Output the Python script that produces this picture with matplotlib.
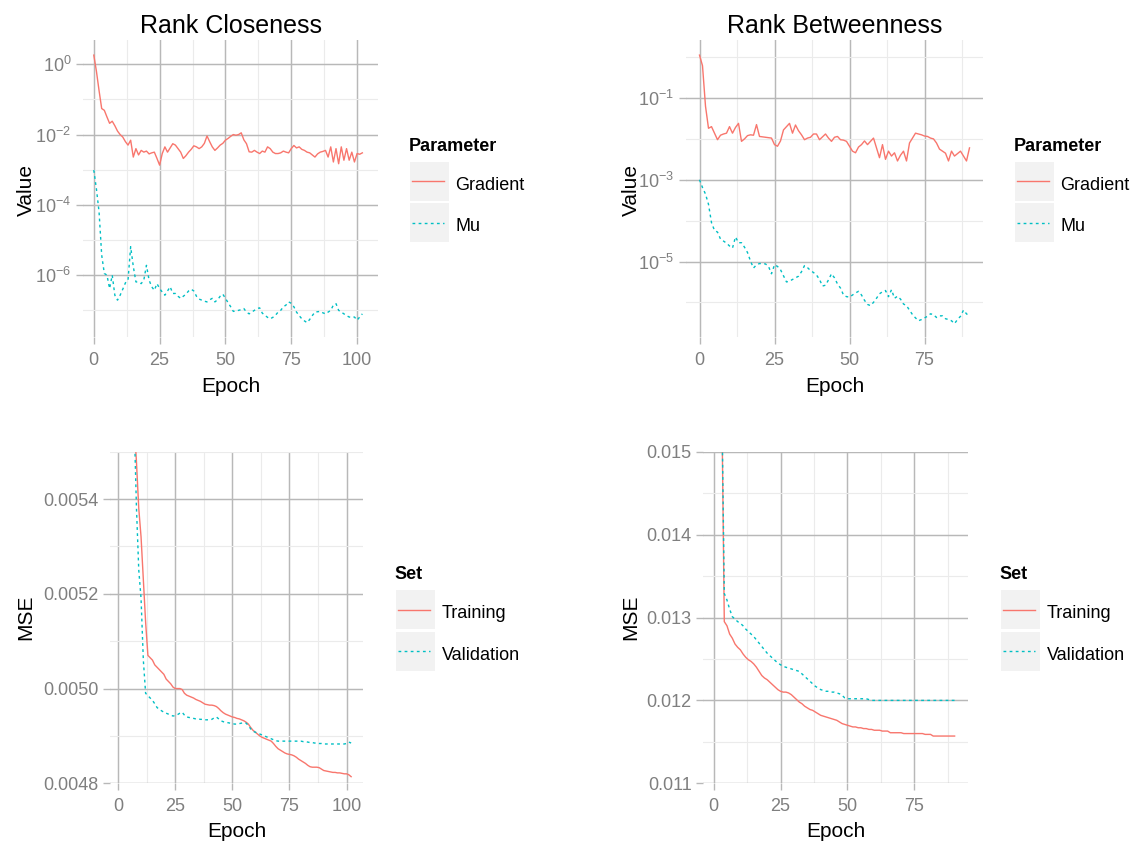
import numpy as np
import matplotlib
matplotlib.use("Agg")
import matplotlib.pyplot as plt
from matplotlib.patches import Rectangle
from matplotlib.lines import Line2D
from matplotlib.ticker import FixedLocator, NullFormatter

plt.rcParams['font.family'] = ['Liberation Sans', 'DejaVu Sans']
plt.rcParams['mathtext.fontset'] = 'custom'
plt.rcParams['mathtext.rm'] = 'Liberation Sans'
plt.rcParams['mathtext.it'] = 'Liberation Sans:italic'
plt.rcParams['mathtext.bf'] = 'Liberation Sans:bold'

# ---------------- data ----------------
titles = ["Rank Closeness", "Rank Betweenness"]
param_labels = ["Gradient", "Mu"]
set_labels = ["Training", "Validation"]

closeness_epochs = np.arange(0, 103)
closeness_gradient_log10 = [
    0.26, -0.2, -0.75, -1.26, -1.31, -1.5, -1.68, -1.62, -1.75, -1.9,
    -2.0, -2.07, -2.2, -2.3, -2.16, -2.64, -2.4, -2.58, -2.45, -2.5,
    -2.47, -2.55, -2.52, -2.5, -2.68, -2.87, -2.54, -2.35, -2.5, -2.38,
    -2.26, -2.3, -2.4, -2.5, -2.68, -2.6, -2.5, -2.42, -2.32, -2.35,
    -2.4, -2.35, -2.25, -2.04, -2.2, -2.35, -2.45, -2.38, -2.3, -2.25,
    -2.16, -2.11, -2.05, -2.0, -2.02, -2.0, -1.95, -2.15, -2.26, -2.49,
    -2.5, -2.45, -2.5, -2.54, -2.47, -2.5, -2.35, -2.4, -2.5, -2.54,
    -2.54, -2.52, -2.47, -2.5, -2.52, -2.4, -2.31, -2.38, -2.35, -2.42,
    -2.45, -2.5, -2.52, -2.58, -2.64, -2.55, -2.5, -2.48, -2.45, -2.64,
    -2.35, -2.78, -2.4, -2.83, -2.35, -2.73, -2.4, -2.73, -2.5, -2.78,
    -2.54, -2.56, -2.52]
closeness_mu_log10 = [
    -3.01, -3.55, -4.2, -5.43, -5.95, -6.0, -6.38, -6.0, -6.57, -6.71,
    -6.57, -6.4, -6.22, -6.14, -5.19, -5.75, -6.19, -6.2, -6.24, -6.14,
    -5.72, -6.14, -6.33, -6.43, -6.24, -6.38, -6.48, -6.57, -6.45, -6.33,
    -6.52, -6.52, -6.6, -6.66, -6.6, -6.54, -6.45, -6.4, -6.45, -6.6,
    -6.68, -6.71, -6.74, -6.76, -6.7, -6.66, -6.76, -6.7, -6.6, -6.54,
    -6.66, -6.78, -6.9, -7.03, -7.02, -7.0, -6.98, -6.95, -7.05, -7.1,
    -7.05, -7.0, -6.95, -6.93, -7.08, -7.14, -7.2, -7.24, -7.2, -7.14,
    -7.05, -7.0, -6.9, -6.85, -6.76, -6.8, -6.9, -7.05, -7.15, -7.24,
    -7.3, -7.35, -7.26, -7.15, -7.05, -7.04, -7.03, -7.07, -7.1, -7.05,
    -7.0, -6.85, -6.81, -7.0, -7.05, -7.1, -7.15, -7.19, -7.2, -7.19,
    -7.28, -7.19, -7.1]

betweenness_epochs = np.arange(0, 91)
betweenness_gradient_log10 = [
    0.05, -0.21, -1.2, -1.74, -1.7, -1.86, -2.02, -1.91, -1.88, -1.86,
    -1.7, -1.86, -1.72, -1.62, -2.06, -2.0, -1.92, -1.9, -1.91, -1.65,
    -1.94, -1.95, -1.96, -1.97, -1.98, -2.14, -2.18, -2.05, -1.78, -1.7,
    -1.62, -1.86, -1.66, -1.8, -1.9, -2.02, -1.98, -1.96, -1.88, -1.88,
    -2.02, -1.95, -1.88, -1.98, -2.06, -1.96, -1.94, -2.02, -2.03, -2.06,
    -2.18, -2.3, -2.34, -2.2, -2.14, -2.05, -2.14, -2.06, -1.98, -2.22,
    -2.46, -2.14, -2.5, -2.3, -2.42, -2.34, -2.54, -2.4, -2.3, -2.54,
    -2.1, -1.98, -1.86, -1.88, -1.9, -1.93, -1.94, -1.98, -2.0, -2.1,
    -2.25, -2.3, -2.35, -2.54, -2.3, -2.42, -2.36, -2.3, -2.42, -2.54,
    -2.22]
betweenness_mu_log10 = [
    -3.0, -3.19, -3.35, -3.6, -4.05, -4.24, -4.28, -4.45, -4.5, -4.55,
    -4.62, -4.67, -4.4, -4.54, -4.54, -4.65, -4.78, -4.99, -5.16, -5.08,
    -5.05, -5.05, -5.06, -5.12, -5.3, -5.08, -5.12, -5.2, -5.35, -5.5,
    -5.48, -5.44, -5.4, -5.36, -5.25, -5.1, -5.15, -5.22, -5.27, -5.33,
    -5.44, -5.6, -5.58, -5.45, -5.3, -5.4, -5.55, -5.65, -5.82, -5.86,
    -5.87, -5.82, -5.77, -5.73, -5.82, -5.95, -6.05, -6.08, -6.0, -5.9,
    -5.79, -5.74, -5.71, -5.86, -5.69, -5.9, -5.85, -5.92, -6.04, -6.08,
    -6.19, -6.3, -6.38, -6.45, -6.42, -6.38, -6.34, -6.28, -6.3, -6.37,
    -6.33, -6.33, -6.4, -6.42, -6.45, -6.52, -6.42, -6.34, -6.19, -6.28,
    -6.34]

closeness_mse_epochs = np.arange(7, 103)
closeness_training = [
    0.00556, 0.005477, 0.00538, 0.00532, 0.00523, 0.00514, 0.00507, 0.005065, 0.00506, 0.00505,
    0.005045, 0.00504, 0.005035, 0.00503, 0.00502, 0.005015, 0.00501, 0.005003, 0.005, 0.005,
    0.005, 0.004998, 0.00499, 0.004986, 0.004984, 0.004982, 0.00498, 0.004977, 0.004975, 0.004973,
    0.00497, 0.004967, 0.004966, 0.004965, 0.004965, 0.004964, 0.004962, 0.004958, 0.004953, 0.004949,
    0.004946, 0.004944, 0.004942, 0.00494, 0.004939, 0.004937, 0.004936, 0.004934, 0.004932, 0.004929,
    0.004925, 0.004918, 0.004912, 0.004908, 0.004904, 0.0049, 0.004897, 0.004895, 0.004893, 0.004891,
    0.004889, 0.004884, 0.004878, 0.004873, 0.00487, 0.004867, 0.004864, 0.004862, 0.004861, 0.00486,
    0.004858, 0.004855, 0.004851, 0.004848, 0.004845, 0.004842, 0.004838, 0.004835, 0.004834, 0.004834,
    0.004834, 0.004833, 0.00483, 0.004827, 0.004826, 0.004825, 0.004824, 0.004823, 0.004823, 0.004822,
    0.004822, 0.004821, 0.00482, 0.00482, 0.004818, 0.004814]
closeness_validation = [
    0.00556, 0.00538, 0.00525, 0.00519, 0.00506, 0.00499, 0.004985, 0.00498, 0.004975, 0.004968,
    0.00496, 0.004956, 0.004953, 0.00495, 0.004948, 0.004946, 0.004944, 0.004942, 0.004943, 0.004945,
    0.004948, 0.00495, 0.004944, 0.00494, 0.004939, 0.004938, 0.004937, 0.004936, 0.004936, 0.004935,
    0.004935, 0.004934, 0.004934, 0.004934, 0.004935, 0.004938, 0.00494, 0.004936, 0.004932, 0.00493,
    0.004929, 0.004928, 0.004927, 0.004926, 0.004925, 0.004925, 0.004926, 0.004927, 0.004928, 0.004927,
    0.004922, 0.004915, 0.00491, 0.004908, 0.004906, 0.004904, 0.004902, 0.0049, 0.004898, 0.004896,
    0.004894, 0.004892, 0.00489, 0.004889, 0.004889, 0.004889, 0.004889, 0.004889, 0.004889, 0.004889,
    0.004889, 0.004889, 0.004889, 0.004889, 0.004888, 0.004888, 0.004887, 0.004886, 0.004886, 0.004885,
    0.004885, 0.004884, 0.004884, 0.004883, 0.004883, 0.004883, 0.004883, 0.004883, 0.004883, 0.004883,
    0.004883, 0.004883, 0.004883, 0.004884, 0.004887, 0.004885]

betweenness_mse_epochs = np.arange(3, 91)
betweenness_training = [
    0.0158, 0.01295, 0.0129, 0.0128, 0.01275, 0.01268, 0.01264, 0.01261, 0.01256, 0.01252,
    0.01249, 0.01247, 0.01244, 0.0124, 0.01235, 0.0123, 0.01227, 0.01225, 0.01222, 0.01219,
    0.01216, 0.01213, 0.01211, 0.0121, 0.0121, 0.01209, 0.01207, 0.01204, 0.01201, 0.01198,
    0.01196, 0.01193, 0.01191, 0.01189, 0.01188, 0.01186, 0.01184, 0.01182, 0.01181, 0.0118,
    0.01179, 0.01178, 0.01177, 0.01176, 0.01174, 0.01172, 0.01171, 0.0117, 0.01169, 0.01168,
    0.01168, 0.01167, 0.01167, 0.01166, 0.01166, 0.01165, 0.01165, 0.01164, 0.01164, 0.01164,
    0.01163, 0.01163, 0.01163, 0.01161, 0.01161, 0.01161, 0.01161, 0.01161, 0.0116, 0.0116,
    0.0116, 0.0116, 0.0116, 0.0116, 0.0116, 0.0116, 0.01159, 0.01159, 0.01159, 0.01157,
    0.01157, 0.01157, 0.01157, 0.01157, 0.01157, 0.01157, 0.01157, 0.01157]
betweenness_validation = [
    0.0158, 0.01329, 0.01321, 0.0131, 0.01301, 0.01298, 0.01295, 0.01293, 0.0129, 0.01286,
    0.01283, 0.0128, 0.01277, 0.01273, 0.01269, 0.01265, 0.01261, 0.01257, 0.01254, 0.01251,
    0.01248, 0.01245, 0.01243, 0.01241, 0.0124, 0.01239, 0.01238, 0.01237, 0.01236, 0.01235,
    0.01232, 0.01229, 0.01226, 0.01223, 0.0122, 0.01217, 0.01215, 0.01213, 0.01212, 0.01211,
    0.01211, 0.0121, 0.0121, 0.01209, 0.01208, 0.01206, 0.01203, 0.01202, 0.01202, 0.01202,
    0.01202, 0.01202, 0.01202, 0.01202, 0.01202, 0.01201, 0.012, 0.012, 0.012, 0.012,
    0.012, 0.012, 0.012, 0.012, 0.012, 0.012, 0.012, 0.012, 0.012, 0.012,
    0.012, 0.012, 0.012, 0.012, 0.012, 0.012, 0.012, 0.012, 0.012, 0.012,
    0.012, 0.012, 0.012, 0.012, 0.012, 0.012, 0.012, 0.012]

# ---------------- styling ----------------
W, H = 1140, 841
RED = '#F8766D'
CYAN = '#00BFC4'
DOT = (0, (2.0, 2.4))
MAJOR_GRID = '#b8b8b8'
MINOR_GRID = '#ebebeb'
TICK_TEXT = '#7f7f7f'

fig = plt.figure(figsize=(W / 100, H / 100), dpi=100)
fig.patch.set_facecolor('white')


def add_axes_px(l, t, r, b):
    return fig.add_axes([l / W, 1 - b / H, (r - l) / W, (b - t) / H])


def style(ax):
    ax.set_facecolor('white')
    for s in ax.spines.values():
        s.set_visible(False)
    ax.set_axisbelow(True)
    ax.grid(True, which='major', color=MAJOR_GRID, lw=1.05)
    ax.grid(True, which='minor', color=MINOR_GRID, lw=0.8)
    ax.tick_params(which='major', direction='out', length=4.8, width=1.0,
                   color=MAJOR_GRID, labelcolor=TICK_TEXT, labelsize=13)
    ax.tick_params(which='minor', length=0)
    ax.tick_params(axis='x', pad=6.0)
    ax.tick_params(axis='y', pad=3.6)


def no_minor_labels(ax):
    ax.yaxis.set_minor_formatter(NullFormatter())
    ax.xaxis.set_minor_formatter(NullFormatter())


def fig_text(x, y, s, **kw):
    return fig.text(x / W, 1 - y / H, s, **kw)


def draw_legend(x0, title_base, title, labels, colors, styles):
    fig_text(x0 - 1.5, title_base, title, fontsize=13, fontweight='bold',
             ha='left', va='baseline', color='black')
    top = title_base + 11.0
    size = 39.0
    gap = 2.5
    for i, (lab, col, ls) in enumerate(zip(labels, colors, styles)):
        bt = top + i * (size + gap)
        fig.add_artist(Rectangle((x0 / W, 1 - (bt + size) / H), size / W, size / H,
                                 transform=fig.transFigure, facecolor='#f2f2f2',
                                 edgecolor='none'))
        cy = bt + size / 2
        fig.add_artist(Line2D([(x0 + 2) / W, (x0 + 34) / W], [1 - cy / H, 1 - cy / H],
                              transform=fig.transFigure, color=col, lw=1.0, ls=ls))
        fig_text(x0 + 45.5, cy + 8.6, lab, fontsize=13, ha='left', va='baseline',
                 color='black')


def log_labels(exps):
    return [r'$10^{%d}$' % e for e in exps]


# ---------------- top-left: Rank Closeness (log) ----------------
ax1 = add_axes_px(83, 40, 378.4, 336.7)
style(ax1)
ax1.set_yscale('log')
ax1.plot(closeness_epochs, 10.0 ** np.array(closeness_gradient_log10), color=RED, lw=1.0)
ax1.plot(closeness_epochs, 10.0 ** np.array(closeness_mu_log10), color=CYAN, lw=1.0, ls=DOT)
ax1.set_xlim(-4.1, 108.1)
ax1.set_ylim(10 ** -7.75, 10 ** 0.69)
ax1.xaxis.set_major_locator(FixedLocator([0, 25, 50, 75, 100]))
ax1.xaxis.set_minor_locator(FixedLocator([12.5, 37.5, 62.5, 87.5]))
ax1.set_xticklabels(['0', '25', '50', '75', '100'])
maj = [0, -2, -4, -6]
ax1.yaxis.set_major_locator(FixedLocator([10.0 ** e for e in maj]))
ax1.yaxis.set_minor_locator(FixedLocator([10.0 ** e for e in [-1, -3, -5, -7]]))
ax1.set_yticklabels(log_labels(maj))
no_minor_labels(ax1)

# ---------------- top-right: Rank Betweenness (log) ----------------
ax2 = add_axes_px(686, 40, 983, 336.7)
style(ax2)
ax2.set_yscale('log')
ax2.plot(betweenness_epochs, 10.0 ** np.array(betweenness_gradient_log10), color=RED, lw=1.0)
ax2.plot(betweenness_epochs, 10.0 ** np.array(betweenness_mu_log10), color=CYAN, lw=1.0, ls=DOT)
ax2.set_xlim(-4.5, 94.5)
ax2.set_ylim(10 ** -6.84, 10 ** 0.42)
ax2.xaxis.set_major_locator(FixedLocator([0, 25, 50, 75]))
ax2.xaxis.set_minor_locator(FixedLocator([12.5, 37.5, 62.5, 87.5]))
ax2.set_xticklabels(['0', '25', '50', '75'])
maj = [-1, -3, -5]
ax2.yaxis.set_major_locator(FixedLocator([10.0 ** e for e in maj]))
ax2.yaxis.set_minor_locator(FixedLocator([10.0 ** e for e in [0, -2, -4, -6]]))
ax2.set_yticklabels(log_labels(maj))
no_minor_labels(ax2)

# ---------------- bottom-left: closeness MSE ----------------
ax3 = add_axes_px(110, 451.7, 363, 783.3)
style(ax3)
ax3.plot(closeness_mse_epochs, closeness_training, color=RED, lw=1.0)
ax3.plot(closeness_mse_epochs, closeness_validation, color=CYAN, lw=1.0, ls=DOT)
ax3.set_xlim(-3.6, 107.2)
ax3.set_ylim(0.0048, 0.0055)
ax3.xaxis.set_major_locator(FixedLocator([0, 25, 50, 75, 100]))
ax3.xaxis.set_minor_locator(FixedLocator([12.5, 37.5, 62.5, 87.5]))
ax3.set_xticklabels(['0', '25', '50', '75', '100'])
yt = [0.0048, 0.0050, 0.0052, 0.0054]
ax3.yaxis.set_major_locator(FixedLocator(yt))
ax3.yaxis.set_minor_locator(FixedLocator([0.0049, 0.0051, 0.0053, 0.0055]))
ax3.set_yticklabels(['%.4f' % v for v in yt])
no_minor_labels(ax3)

# ---------------- bottom-right: betweenness MSE ----------------
ax4 = add_axes_px(703.3, 451.7, 968, 783.3)
style(ax4)
ax4.plot(betweenness_mse_epochs, betweenness_training, color=RED, lw=1.0)
ax4.plot(betweenness_mse_epochs, betweenness_validation, color=CYAN, lw=1.0, ls=DOT)
ax4.set_xlim(-3.84, 95.0)
ax4.set_ylim(0.011, 0.015)
ax4.xaxis.set_major_locator(FixedLocator([0, 25, 50, 75]))
ax4.xaxis.set_minor_locator(FixedLocator([12.5, 37.5, 62.5, 87.5]))
ax4.set_xticklabels(['0', '25', '50', '75'])
yt = [0.011, 0.012, 0.013, 0.014, 0.015]
ax4.yaxis.set_major_locator(FixedLocator(yt))
ax4.yaxis.set_minor_locator(FixedLocator([0.0115, 0.0125, 0.0135, 0.0145]))
ax4.set_yticklabels(['%.3f' % v for v in yt])
no_minor_labels(ax4)

# ---------------- texts ----------------
fig_text(230.7, 32.7, titles[0], fontsize=18, ha='center', va='baseline')
fig_text(834.5, 32.7, titles[1], fontsize=18, ha='center', va='baseline')

for cx, by in [(230.7, 391.7), (834.5, 391.7), (236.5, 836.7), (835.6, 836.7)]:
    fig_text(cx, by, 'Epoch', fontsize=15, ha='center', va='baseline')

for bx, cy, lab in [(31.7, 190, 'Value'), (636.7, 190, 'Value'),
                    (31.7, 617.5, 'MSE'), (636.7, 617.5, 'MSE')]:
    fig_text(bx, cy, lab, fontsize=15, ha='center', va='baseline',
             rotation=90, rotation_mode='anchor')

draw_legend(410, 150.7, 'Parameter', param_labels, [RED, CYAN], ['-', DOT])
draw_legend(1015, 150.7, 'Parameter', param_labels, [RED, CYAN], ['-', DOT])
draw_legend(396, 579, 'Set', set_labels, [RED, CYAN], ['-', DOT])
draw_legend(1001, 579, 'Set', set_labels, [RED, CYAN], ['-', DOT])

fig.savefig('out.png', dpi=100, facecolor='white')
